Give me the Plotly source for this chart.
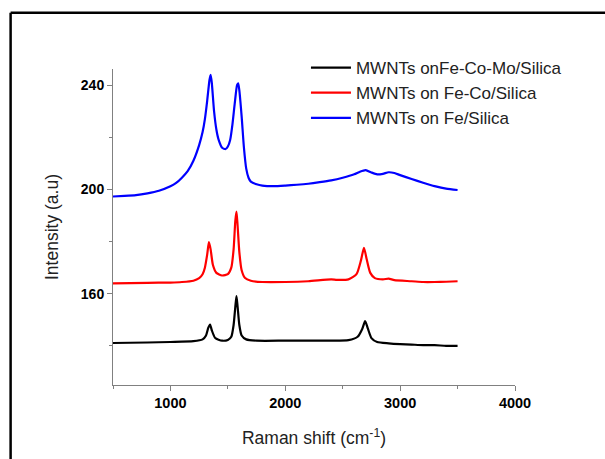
import plotly.graph_objects as go

# ---- data ----
series_names = ["MWNTs onFe-Co-Mo/Silica", "MWNTs on Fe-Co/Silica", "MWNTs on Fe/Silica"]
series_colors = ["#000000", "#ff0000", "#0000ff"]

x_fecomo = [500, 800, 1000, 1200, 1280, 1310, 1330, 1345, 1360, 1390, 1450, 1500, 1530, 1550, 1565,
            1575, 1585, 1600, 1620, 1660, 1750, 2000, 2200, 2400, 2550, 2630, 2670, 2695, 2720,
            2750, 2800, 2900, 3000, 3100, 3200, 3300, 3400, 3500]
y_fecomo = [141.1, 141.3, 141.5, 141.8, 142.5, 144.0, 147.0, 148.2, 146.0, 143.0, 142.0, 142.3, 143.5,
            148.0, 155.0, 159.1, 155.0, 148.0, 144.0, 142.5, 142.0, 142.0, 142.0, 142.0, 142.2, 143.5,
            146.5, 149.5, 146.5, 143.0, 141.5, 141.0, 140.7, 140.5, 140.3, 140.3, 140.0, 140.0]

x_feco = [500, 800, 1000, 1100, 1200, 1250, 1280, 1300, 1320, 1335, 1350, 1370, 1400, 1450, 1500,
          1530, 1550, 1565, 1575, 1585, 1600, 1620, 1650, 1700, 1800, 2000, 2200, 2400, 2450, 2550,
          2620, 2660, 2685, 2710, 2740, 2780, 2850, 2900, 2950, 3100, 3200, 3300, 3400, 3500]
y_feco = [164.0, 164.2, 164.3, 164.5, 165.0, 166.0, 167.5, 170.0, 175.0, 179.8, 177.0, 171.0, 168.0,
          167.0, 167.5, 170.0, 177.0, 188.0, 191.5, 186.0, 176.0, 169.0, 166.0, 165.0, 164.5, 164.5,
          164.8, 165.5, 165.3, 165.5, 167.5, 173.0, 177.6, 173.0, 168.0, 166.0, 165.5, 165.8, 165.2,
          164.8, 164.5, 164.5, 164.6, 164.8]

x_fe = [500, 600, 700, 800, 900, 1000, 1050, 1100, 1150, 1200, 1250, 1280, 1300, 1320, 1340, 1350,
        1360, 1380, 1400, 1420, 1450, 1480, 1500, 1520, 1540, 1560, 1580, 1590, 1600, 1620, 1640,
        1660, 1680, 1700, 1750, 1800, 1900, 2000, 2100, 2200, 2300, 2400, 2500, 2600, 2650, 2700,
        2750, 2800, 2850, 2900, 2950, 3000, 3100, 3200, 3300, 3400, 3500]
y_fe = [197.3, 197.5, 197.8, 198.5, 199.5, 201.2, 202.5, 204.5, 207.0, 211.0, 217.0, 222.0, 227.0,
        234.0, 242.0, 244.0, 241.0, 230.0, 223.0, 219.0, 216.0, 215.5, 216.5, 219.0, 225.0, 233.0,
        240.0, 240.7, 238.0, 228.0, 216.0, 208.0, 204.5, 203.0, 202.0, 201.5, 201.3, 201.5, 201.8,
        202.2, 202.8, 203.5, 204.5, 205.8, 206.8, 207.4, 206.5, 205.8, 206.0, 206.6, 206.3, 205.5,
        204.0, 202.6, 201.3, 200.3, 199.8]

x_ticks = [1000, 2000, 3000, 4000]
y_ticks = [160, 200, 240]

FONT = "Liberation Sans, Arial, sans-serif"

fig = go.Figure()
for name, color, xs, ys in zip(series_names, series_colors,
                               [x_fecomo, x_feco, x_fe], [y_fecomo, y_feco, y_fe]):
    fig.add_trace(go.Scatter(x=xs, y=ys, mode="lines", name=name,
                             line=dict(color=color, width=2.2, shape="spline", smoothing=0.6)))

axis_common = dict(showgrid=False, zeroline=False, showline=True, linecolor="#808080", linewidth=1,
                   ticks="outside", ticklen=5, tickcolor="#808080", tickwidth=1)

fig.update_xaxes(range=[500, 4000], tickvals=x_ticks, ticktext=[str(v) for v in x_ticks],
                 tickfont=dict(family=FONT, size=14.5, color="#000000", weight="bold"),
                 minor=dict(tickvals=[500, 1500, 2500, 3500], ticks="outside", ticklen=3,
                            tickcolor="#808080"),
                 title=dict(text="Raman shift (cm<sup>-1</sup>)", standoff=21,
                            font=dict(family=FONT, size=17.5, color="#222222")),
                 **axis_common)
fig.update_yaxes(range=[125, 246.2], tickvals=y_ticks, ticktext=[str(v) for v in y_ticks],
                 tickfont=dict(family=FONT, size=14, color="#000000", weight="bold"),
                 minor=dict(tickvals=[140, 180, 220], ticks="outside", ticklen=3,
                            tickcolor="#808080"),
                 title=dict(text="Intensity (a.u)", standoff=17,
                            font=dict(family=FONT, size=17.5, color="#222222")),
                 **axis_common)

# frame around the picture (left and top edges)
fig.add_shape(type="line", xref="paper", yref="paper", x0=-0.2547, x1=-0.2547, y0=1.178, y1=-0.35,
              line=dict(color="#000000", width=2.5))
fig.add_shape(type="line", xref="paper", yref="paper", x0=-0.2547, x1=1.30, y0=1.178, y1=1.178,
              line=dict(color="#000000", width=2.5))

fig.update_layout(
    width=605, height=459,
    margin=dict(l=112.5, r=90, t=69.3, b=73.7, autoexpand=False),
    paper_bgcolor="white", plot_bgcolor="white",
    legend=dict(x=0.48, y=1.06, xanchor="left", yanchor="top", bgcolor="rgba(0,0,0,0)",
                font=dict(family=FONT, size=17, color="#222222"), tracegroupgap=0,
                itemwidth=40),
    showlegend=True,
)

fig.write_html("out.html", config={"displayModeBar": False},
               post_script="document.body.style.margin='0';")
